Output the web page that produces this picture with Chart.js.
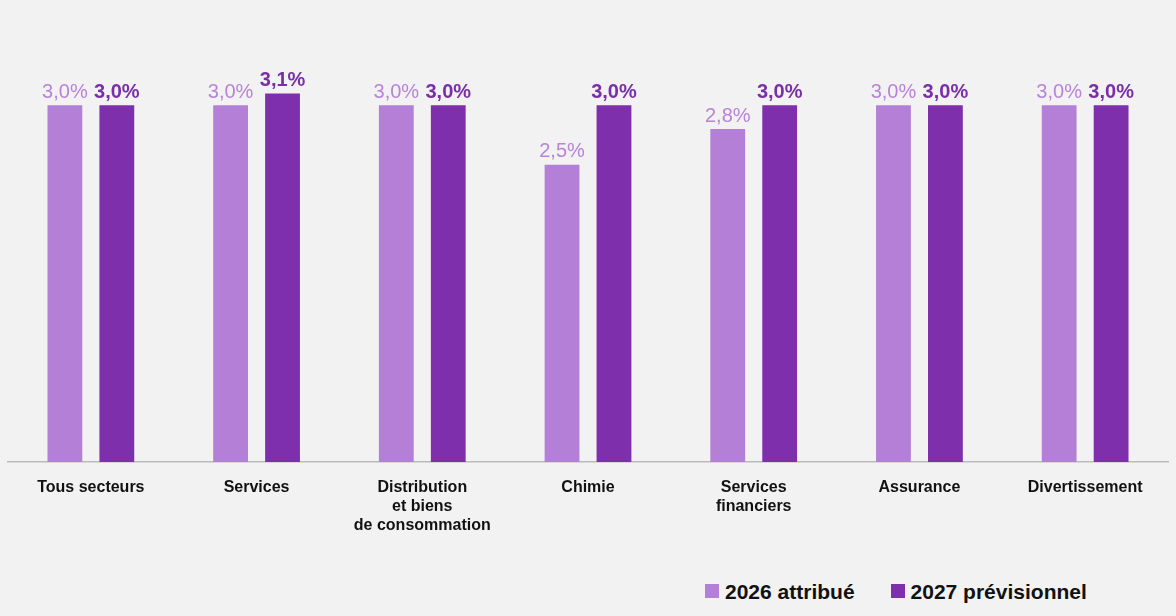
<!DOCTYPE html>
<html><head><meta charset="utf-8">
<script src="https://cdn.jsdelivr.net/npm/chart.js@4"></script>
<style>
body{margin:0;background:#f2f2f2;font-family:"Liberation Sans",Arial,sans-serif;}
#wrap{position:relative;width:1176px;height:570px;}
#legend{position:absolute;left:705px;top:580px;font-weight:bold;font-size:21px;color:#111;white-space:nowrap;}
#legend span.sw{display:inline-block;width:14px;height:14px;margin-right:6px;vertical-align:1px;}
</style></head>
<body>
<div id="wrap"><canvas id="c" width="1176" height="570"></canvas></div>
<div id="legend"><span class="sw" style="background:#b47fd6"></span>2026 attribué<span style="display:inline-block;width:36px"></span><span class="sw" style="background:#7d2fac"></span>2027 prévisionnel</div>
<script>
// catégories et valeurs
const categories = [["Tous secteurs"], ["Services"], ["Distribution", "et biens", "de consommation"], ["Chimie"], ["Services", "financiers"], ["Assurance"], ["Divertissement"]];
const values2026 = [3.0, 3.0, 3.0, 2.5, 2.8, 3.0, 3.0];
const values2027 = [3.0, 3.1, 3.0, 3.0, 3.0, 3.0, 3.0];
const seriesNames = ["2026 attribué", "2027 prévisionnel"];

// étiquettes au-dessus des barres
const labelPlugin = {
    id: "labels",
    afterDatasetsDraw(chart) {
        const ctx = chart.ctx;
        chart.data.datasets.forEach((ds, i) => {
            chart.getDatasetMeta(i).data.forEach((bar, j) => {
                ctx.save();
                ctx.font = (i === 1 ? "bold " : "") + "20px 'Liberation Sans', Arial, sans-serif";
                ctx.fillStyle = i === 1 ? "#7a2fa8" : "#b883d8";
                ctx.textAlign = "center";
                ctx.textBaseline = "bottom";
                ctx.fillText(ds.data[j].toFixed(1).replace(".", ",") + "%", bar.x, bar.y - 3);
                ctx.restore();
            });
        });
    }
};

new Chart(document.getElementById("c").getContext("2d"), {
    type: "bar",
    data: {
        labels: categories,
        datasets: [
            { label: seriesNames[0], data: values2026, backgroundColor: "#b47fd6" },
            { label: seriesNames[1], data: values2027, backgroundColor: "#7d2fac" }
        ]
    },
    options: {
        responsive: false,
        animation: false,
        layout: { padding: { top: 34, left: 8, right: 8 } },
        datasets: { bar: { categoryPercentage: 0.627, barPercentage: 0.67 } },
        plugins: { legend: { display: false }, tooltip: { enabled: false } },
        scales: {
            y: { display: false, min: 0, max: 3.6 },
            x: {
                grid: { display: false },
                border: { color: "#bbbbbb", width: 1.5 },
                ticks: { color: "#111", font: { family: "'Liberation Sans', Arial, sans-serif", size: 16, weight: "bold" }, maxRotation: 0, autoSkip: false, padding: 8 },
                afterFit(scale) { scale.height = 108; }
            }
        }
    },
    plugins: [labelPlugin]
});
</script>
</body></html>
